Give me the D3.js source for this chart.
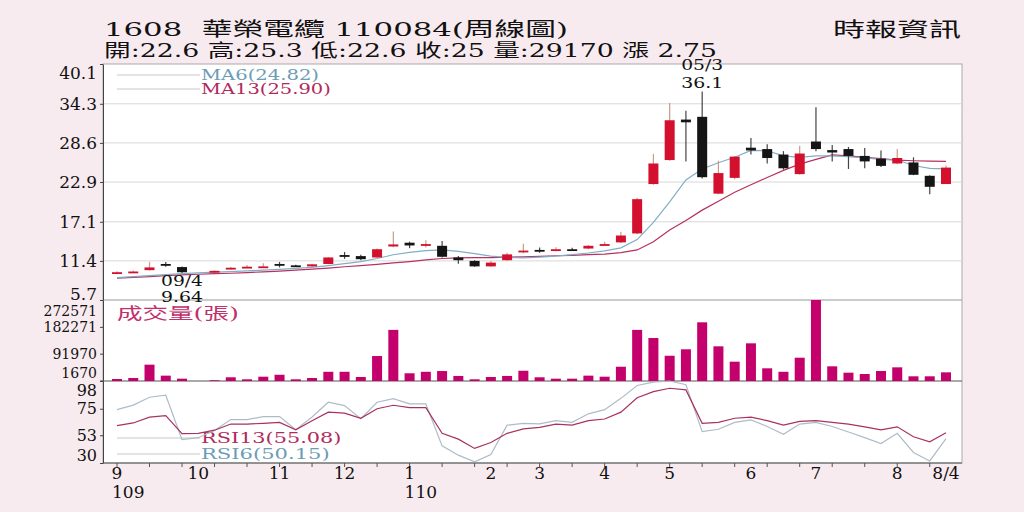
<!DOCTYPE html>
<html>
<head>
<meta charset="utf-8">
<script src="https://cdnjs.cloudflare.com/ajax/libs/d3/7.8.5/d3.min.js"></script>
<style>
  body { margin: 0; background: #f8ebf0; }
  svg { display: block; }
  text { font-family: "DejaVu Serif", "Noto Sans CJK TC", serif; }
</style>
</head>
<body>
<div id="chart"></div>
<script>
var width = 1024, height = 512;

// weekly candles from 109/9 to 110/8/4 (null = empty week)
var open = [9.7, 9.8, 10.05, 10.95, 10.5, null, 9.7, 10.2, 10.5, 10.55,
  10.95, 10.75, 10.6, 10.95, 12.25, 12.1, 11.9, 13.5, 14.05, 13.8,
  13.6, 11.9, 11.4, 10.6, 11.5, 12.8, 13.0, 13.05, 13.1, 13.2,
  13.8, 14.1, 15.4, 22.6, 26.1, 32.0, 32.4, 21.2, 23.5, 27.9,
  27.7, 26.9, 24.05, 28.8, 27.55, 27.7, 26.7, 26.3, 25.6, 25.75,
  23.8, 22.6];
var high = [9.9, 10.0, 11.25, 11.25, 10.6, null, 10.0, 10.5, 10.8, 11.05,
  11.25, 10.85, 11.0, 11.95, 12.7, 12.3, 13.2, 15.7, 14.2, 14.4,
  14.3, 12.1, 11.5, 11.4, 12.6, 13.9, 13.35, 13.4, 13.3, 13.7,
  14.2, 15.6, 20.6, 27.0, 34.4, 33.3, 36.1, 26.0, 26.7, 29.3,
  28.4, 27.4, 28.2, 33.8, 28.3, 28.0, 27.85, 27.5, 27.7, 26.5,
  23.9, 25.3];
var low = [9.65, 9.75, 10.0, 10.55, 9.64, null, 9.65, 10.15, 10.35, 10.35,
  10.45, 10.5, 10.5, 10.9, 11.7, 11.5, 11.85, 13.4, 13.25, 13.35,
  11.9, 11.0, 10.55, 10.55, 11.4, 12.5, 12.6, 12.8, 12.9, 13.1,
  13.6, 14.0, 15.3, 22.5, 26.0, 25.9, 23.4, 21.1, 23.3, 26.9,
  25.6, 24.7, 23.95, 27.4, 25.9, 24.8, 24.9, 25.1, 25.5, 23.9,
  21.1, 22.6];
var close = [9.75, 9.85, 10.45, 10.9, 9.75, null, 9.95, 10.4, 10.55, 10.6,
  10.9, 10.6, 10.9, 11.9, 12.2, 11.65, 13.1, 13.8, 13.65, 13.85,
  12.0, 11.5, 10.6, 11.15, 12.35, 12.9, 12.95, 13.1, 13.05, 13.6,
  13.85, 15.1, 20.4, 25.6, 31.9, 31.6, 23.6, 24.2, 26.6, 27.5,
  26.4, 24.9, 27.05, 27.7, 27.2, 26.7, 25.9, 25.25, 26.4, 23.95,
  22.2, 25.0];
var volume = [6700, 10000, 55000, 18000, 7800, null, 2500, 12500, 5700, 14500,
  21000, 5700, 10000, 31000, 31000, 13500, 84000, 172000, 26000, 31000,
  33500, 17000, 5700, 13500, 17000, 34500, 12500, 7800, 7800, 18000,
  14500, 48000, 172000, 144700, 85000, 106700, 197500, 116700, 65000, 126800,
  42700, 31000, 78400, 272571, 49400, 28000, 23500, 33600, 46000, 15800,
  15800, 29170];
var ma6 = [8.95, 9.1, 9.25, 9.4, 9.55, 9.65, 9.75, 9.85, 9.95, 10.05,
  10.15, 10.3, 10.45, 10.7, 11.0, 11.3, 11.75, 12.3, 12.65, 12.9,
  13.0, 12.8, 12.45, 12.1, 11.9, 11.85, 11.95, 12.1, 12.3, 12.55,
  12.85, 13.3, 14.5, 17.0, 20.0, 23.2, 24.8, 25.7, 26.5, 27.5,
  27.45, 26.7, 26.5, 26.7, 26.7, 26.6, 26.4, 26.2, 26.1, 25.3,
  24.9, 24.82];
var ma13 = [8.9, 9.0, 9.1, 9.25, 9.35, 9.45, 9.55, 9.6, 9.7, 9.8,
  9.9, 10.05, 10.2, 10.35, 10.55, 10.7, 10.9, 11.1, 11.3, 11.55,
  11.75, 11.85, 11.88, 11.88, 11.95, 12.0, 12.05, 12.15, 12.2, 12.3,
  12.4, 12.6, 13.0, 14.2, 15.9, 17.3, 18.8, 20.1, 21.4, 22.5,
  23.55, 24.6, 25.5, 26.2, 26.86, 26.7, 26.5, 26.3, 26.1, 26.0,
  25.95, 25.9];
var rsi6 = [74.3, 78, 84.5, 86.2, 49.4, 51, 57, 66, 66, 68.5,
  68.5, 57.5, 68.2, 80.4, 77.6, 66.8, 80.4, 83.3, 79, 79,
  44.2, 36.5, 31, 37, 61.4, 62.8, 62.5, 65.1, 63.7, 70.8,
  74.2, 83.6, 94.3, 97, 98, 94.9, 56, 58, 63.7, 65.7,
  60.3, 53.8, 62.3, 63.7, 60.3, 55.7, 51, 46.1, 54.6, 38.7,
  31.7, 50.15];
var rsi13 = [61, 63.2, 68, 69.3, 54.4, 54.5, 57.2, 62.3, 62.3, 62.9,
  63.7, 57.5, 65.1, 72.2, 71.4, 67.1, 75, 77.9, 75.9, 75.9,
  54.6, 49.8, 42.1, 47, 54.6, 58.3, 59.5, 62.3, 61.4, 65.1,
  66.5, 72.2, 84.1, 89.2, 92, 90.6, 62.9, 63.7, 67.1, 68,
  65.1, 61.4, 64.5, 65.1, 63.7, 62.3, 60, 57.5, 60, 51.8,
  47.6, 55.08];

var monthLabels = ["9", "10", "11", "12", "1", "2", "3", "4", "5", "6", "7", "8", "8/4"];
var monthIndex = [0, 5, 10, 14, 18, 23, 26, 30, 34, 39, 43, 48, 51];
var yearLabels = ["109", "110"];
var yearIndex = [0, 18];
var priceTicks = [5.7, 11.4, 17.1, 22.9, 28.6, 34.3, 40.1];
var volTicks = [1670, 91970, 182271, 272571];
var rsiTicks = [30, 53, 75, 98];
var hiDate = "05/3", loDate = "09/4";

var plot = {left: 103, right: 962, top: 64, price: 300, vol: 381, bottom: 463};

//Create SVG element
var svg = d3.select("#chart")
  .append("svg")
  .attr("width", width)
  .attr("height", height);

// Scales
var xScale = d3.scalePoint()
  .domain(d3.range(open.length))
  .range([plot.left + 14, plot.right - 16]);

var yPrice = d3.scaleLinear()
  .domain([priceTicks[0], priceTicks[priceTicks.length - 1]])
  .range([plot.price, plot.top]);

var yVol = d3.scaleLinear()
  .domain([0, volTicks[volTicks.length - 1]])
  .range([plot.vol, plot.price]);

var yRsi = d3.scaleLinear()
  .domain([rsiTicks[0], rsiTicks[rsiTicks.length - 1]])
  .range([plot.bottom, plot.vol]);

// White plot area
svg.append("rect")
  .attr("x", plot.left)
  .attr("y", plot.top)
  .attr("width", plot.right - plot.left)
  .attr("height", plot.bottom - plot.top)
  .attr("fill", "#fff")
  .attr("stroke", "#aaa");

// Price grid
svg.append("g")
  .selectAll("line")
  .data(priceTicks.slice(1, -1))
  .enter()
  .append("line")
  .attr("x1", plot.left)
  .attr("x2", plot.right)
  .attr("y1", d => yPrice(d))
  .attr("y2", d => yPrice(d))
  .attr("stroke", "#d8d8d8");

// Panel separators
svg.append("line")
  .attr("x1", plot.left).attr("x2", plot.right)
  .attr("y1", plot.price).attr("y2", plot.price)
  .attr("stroke", "#999");
svg.append("line")
  .attr("x1", plot.left).attr("x2", plot.right)
  .attr("y1", plot.vol).attr("y2", plot.vol)
  .attr("stroke", "#555");
svg.append("line")
  .attr("x1", plot.left).attr("x2", plot.right)
  .attr("y1", plot.bottom).attr("y2", plot.bottom)
  .attr("stroke", "#555");

// Legend for moving averages
var maLegend = [
  {name: "MA6(" + ma6[ma6.length - 1].toFixed(2) + ")", color: "#6d9cb5", y: 75},
  {name: "MA13(" + ma13[ma13.length - 1].toFixed(2) + ")", color: "#b02a5c", y: 89}
];
var rsiLegend = [
  {name: "RSI13(" + rsi13[rsi13.length - 1].toFixed(2) + ")", color: "#b02a5c", y: 438},
  {name: "RSI6(" + rsi6[rsi6.length - 1].toFixed(2) + ")", color: "#6d9cb5", y: 454}
];

function drawLegend(items, w) {
  var g = svg.append("g");
  g.selectAll("line")
    .data(items)
    .enter()
    .append("line")
    .attr("x1", xScale(0))
    .attr("x2", 200)
    .attr("y1", d => d.y)
    .attr("y2", d => d.y)
    .attr("stroke", "#c8c8c8");
  g.selectAll("text")
    .data(items)
    .enter()
    .append("text")
    .attr("x", 201)
    .attr("y", d => d.y)
    .attr("dy", "0.36em")
    .attr("font-size", "14px")
    .attr("fill", d => d.color)
    .attr("textLength", (d) => d.name.length * w)
    .attr("lengthAdjust", "spacingAndGlyphs")
    .text(d => d.name);
}
drawLegend(maLegend, 11.8);

// Moving averages
var priceLine = d3.line()
  .x((d, i) => xScale(i))
  .y(d => yPrice(d));

svg.append("path")
  .datum(ma13)
  .attr("d", priceLine)
  .attr("fill", "none")
  .attr("stroke", "#b8305f")
  .attr("stroke-width", 1.2);

svg.append("path")
  .datum(ma6)
  .attr("d", priceLine)
  .attr("fill", "none")
  .attr("stroke", "#82adc6")
  .attr("stroke-width", 1.2);

// Candles
var candles = d3.range(open.length)
  .filter(i => open[i] !== null)
  .map(i => ({i: i, o: open[i], h: high[i], l: low[i], c: close[i]}));

var cg = svg.append("g");
cg.selectAll("line")
  .data(candles)
  .enter()
  .append("line")
  .attr("x1", d => xScale(d.i))
  .attr("x2", d => xScale(d.i))
  .attr("y1", d => yPrice(d.h))
  .attr("y2", d => yPrice(d.l))
  .attr("stroke", d => d.c >= d.o ? "#c99a86" : "#444")
  .attr("stroke-width", 1.2);

cg.selectAll("rect")
  .data(candles)
  .enter()
  .append("rect")
  .attr("x", d => xScale(d.i) - 5)
  .attr("width", 10)
  .attr("y", d => yPrice(Math.max(d.o, d.c)))
  .attr("height", d => Math.max(1.8, Math.abs(yPrice(d.o) - yPrice(d.c))))
  .attr("fill", d => d.c >= d.o ? "#d3102e" : "#151515");

// High / low notes
var hiI = d3.maxIndex(high), loI = d3.minIndex(low);
var notes = [
  {x: xScale(hiI), y: 70, t: hiDate},
  {x: xScale(hiI), y: 88, t: String(high[hiI])},
  {x: xScale(loI), y: 286, t: loDate},
  {x: xScale(loI), y: 302, t: String(low[loI])}
];
svg.append("g")
  .selectAll("text")
  .data(notes)
  .enter()
  .append("text")
  .attr("x", d => d.x)
  .attr("y", d => d.y)
  .attr("text-anchor", "middle")
  .attr("font-size", "14px")
  .attr("fill", "#111")
  .attr("textLength", d => d.t.length * 10.5)
  .attr("lengthAdjust", "spacingAndGlyphs")
  .text(d => d.t);

// Volume bars
svg.append("g")
  .selectAll("rect")
  .data(d3.range(volume.length).filter(i => volume[i] !== null))
  .enter()
  .append("rect")
  .attr("x", i => xScale(i) - 5)
  .attr("width", 10)
  .attr("y", i => yVol(volume[i]))
  .attr("height", i => yVol(0) - yVol(volume[i]))
  .attr("fill", "#c4006c");

svg.append("text")
  .attr("x", xScale(0))
  .attr("y", 313)
  .attr("dy", "0.36em")
  .attr("font-size", "16px")
  .attr("fill", "#c0306a")
  .attr("textLength", 122)
  .attr("lengthAdjust", "spacingAndGlyphs")
  .text("成交量(張)");

// RSI
drawLegend(rsiLegend, 11.7);

var rsiLine = d3.line()
  .x((d, i) => xScale(i))
  .y(d => yRsi(d));

svg.append("path")
  .datum(rsi6)
  .attr("d", rsiLine)
  .attr("fill", "none")
  .attr("stroke", "#aebcc8")
  .attr("stroke-width", 1.2);

svg.append("path")
  .datum(rsi13)
  .attr("d", rsiLine)
  .attr("fill", "none")
  .attr("stroke", "#a8325f")
  .attr("stroke-width", 1.2);

// Y axes, edge labels pushed inside the panel
function edgeDy(ticks, topDy, bottomDy) {
  return function(d) {
    if (d === ticks[ticks.length - 1]) return topDy;
    if (d === ticks[0]) return bottomDy;
    return "0.32em";
  };
}

svg.append("g")
  .attr("transform", `translate(${plot.left},0)`)
  .call(d3.axisLeft(yPrice).tickValues(priceTicks).tickSize(3).tickSizeOuter(0).tickFormat(d3.format(".1f")))
  .style("color", "#444")
  .selectAll("text")
  .attr("font-size", "17px")
  .attr("font-family", "DejaVu Serif")
  .attr("fill", "#111")
  .attr("dy", edgeDy(priceTicks, "0.86em", "-0.02em"));

svg.append("g")
  .attr("transform", `translate(${plot.left},0)`)
  .call(d3.axisLeft(yVol).tickValues(volTicks).tickSize(3).tickSizeOuter(0).tickFormat(d3.format("d")))
  .style("color", "#444")
  .selectAll("text")
  .attr("font-size", "14px")
  .attr("font-family", "DejaVu Serif")
  .attr("fill", "#111")
  .attr("dy", edgeDy(volTicks, "1.1em", "-0.2em"));

svg.append("g")
  .attr("transform", `translate(${plot.left},0)`)
  .call(d3.axisLeft(yRsi).tickValues(rsiTicks).tickSize(3).tickSizeOuter(0))
  .style("color", "#444")
  .selectAll("text")
  .attr("font-size", "16px")
  .attr("font-family", "DejaVu Serif")
  .attr("fill", "#111")
  .attr("dy", edgeDy(rsiTicks, "0.9em", "-0.18em"));

// X axis ticks and month labels
svg.append("g")
  .selectAll("line")
  .data(d3.range(0, open.length, 2))
  .enter()
  .append("line")
  .attr("x1", i => xScale(i))
  .attr("x2", i => xScale(i))
  .attr("y1", plot.bottom)
  .attr("y2", plot.bottom + 4)
  .attr("stroke", "#555");

svg.append("g")
  .selectAll("text")
  .data(monthLabels)
  .enter()
  .append("text")
  .attr("x", (d, k) => xScale(monthIndex[k]))
  .attr("y", 479)
  .attr("text-anchor", "middle")
  .attr("font-size", "17px")
  .attr("fill", "#111")
  .text(d => d);

svg.append("g")
  .selectAll("text")
  .data(yearLabels)
  .enter()
  .append("text")
  .attr("x", (d, k) => xScale(yearIndex[k]) - 5)
  .attr("y", 498)
  .attr("font-size", "17px")
  .attr("fill", "#111")
  .text(d => d);

// Header
svg.append("text")
  .attr("x", 104)
  .attr("y", 36)
  .attr("font-size", "19px")
  .attr("fill", "#111")
  .style("white-space", "pre")
  .attr("textLength", 464)
  .attr("lengthAdjust", "spacingAndGlyphs")
  .text("1608  華榮電纜 110084(周線圖)");

svg.append("text")
  .attr("x", 104)
  .attr("y", 57)
  .attr("font-size", "18px")
  .attr("fill", "#111")
  .attr("textLength", 613)
  .attr("lengthAdjust", "spacingAndGlyphs")
  .text("開:" + open[open.length - 1] + " 高:" + high[high.length - 1] + " 低:" + low[low.length - 1] +
    " 收:" + close[close.length - 1] + " 量:" + volume[volume.length - 1] + " 漲 2.75");

svg.append("text")
  .attr("x", 833)
  .attr("y", 37)
  .attr("font-size", "20px")
  .attr("fill", "#111")
  .attr("textLength", 128)
  .attr("lengthAdjust", "spacingAndGlyphs")
  .text("時報資訊");
</script>
</body>
</html>
